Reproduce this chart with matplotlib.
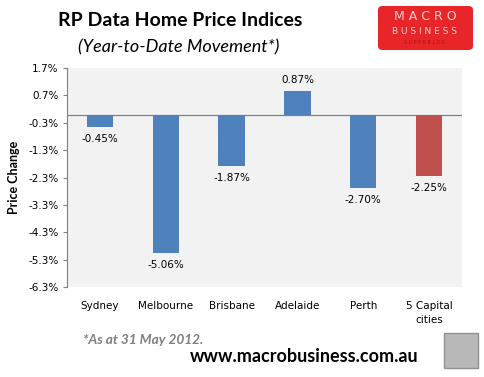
import matplotlib
matplotlib.use("Agg")
import matplotlib.pyplot as plt
from matplotlib.patches import FancyBboxPatch, Rectangle
import numpy as np

categories = ["Sydney", "Melbourne", "Brisbane", "Adelaide", "Perth", "5 Capital\ncities"]
values = [-0.45, -5.06, -1.87, 0.87, -2.70, -2.25]
colors = ["#4F81BD"] * 5 + ["#C0504D"]
yticks = [1.7, 0.7, -0.3, -1.3, -2.3, -3.3, -4.3, -5.3, -6.3]

fig = plt.figure(figsize=(4.85, 3.77), dpi=100)
ax = fig.add_axes([67/485, 1-287/377, (462-67)/485, (287-68)/377])
ax.set_facecolor("#F2F2F2")
x = np.arange(len(categories))
ax.bar(x, values, width=0.4, color=colors, zorder=3)
ax.axhline(0, color="#808080", lw=0.9, zorder=2)
ax.set_ylim(-6.3, 1.7)
ax.set_xlim(-0.5, len(categories)-0.5)
ax.set_yticks(yticks)
ax.set_yticklabels([f"{t:.1f}%" for t in yticks], fontsize=7.5, family="DejaVu Sans")
ax.set_xticks(x)
ax.set_xticklabels(categories, fontsize=7.5, family="DejaVu Sans", linespacing=1.5)
ax.tick_params(axis="x", length=0, pad=10)
ax.tick_params(axis="y", length=3, color="#808080", direction="out", pad=3)
for s in ["top", "right", "bottom"]:
    ax.spines[s].set_visible(False)
ax.spines["left"].set_color("#808080")
ax.set_ylabel("Price Change", fontsize=9, fontweight="bold", family="Lato", labelpad=6)

for xi, v in zip(x, values):
    if v < 0:
        ax.annotate(f"{v:.2f}%", (xi, v), xytext=(0, -5), textcoords="offset points",
                    ha="center", va="top", fontsize=7.5, family="DejaVu Sans")
    else:
        ax.annotate(f"{v:.2f}%", (xi, v), xytext=(0, 4), textcoords="offset points",
                    ha="center", va="bottom", fontsize=7.5, family="DejaVu Sans")

fig.text(180/485, 1-21/377, "RP Data Home Price Indices", ha="center", va="center",
         fontsize=14, fontweight="bold", family="Lato")
fig.text(179/485, 1-47/377, "(Year-to-Date Movement*)", ha="center", va="center",
         fontsize=13, style="italic", family="Lato")
fig.text(83/485, 1-340/377, "*As at 31 May 2012.", ha="left", va="center",
         fontsize=9.8, style="italic", fontweight="bold", color="#7F7F7F", family="Lato")
fig.text(304/485, 1-357/377, "www.macrobusiness.com.au", ha="center", va="center",
         fontsize=13, fontweight="bold", family="Lato")

# logo box
logo = FancyBboxPatch((378/485, 1-50/377), 95/485, 44/377,
                      boxstyle="round,pad=0,rounding_size=0.01",
                      transform=fig.transFigure, facecolor="#E8262A", edgecolor="none")
fig.patches.append(logo)
fig.text(425/485, 1-17/377, "M A C R O", ha="center", va="center", fontsize=9,
         color="#F5D0D0", family="DejaVu Sans")
fig.text(425/485, 1-31/377, "B U S I N E S S", ha="center", va="center", fontsize=6.5,
         color="#F5D0D0", family="DejaVu Sans")
fig.text(425/485, 1-42/377, "S U P E R B L O G", ha="center", va="center", fontsize=3.5,
         color="#B01010", family="DejaVu Sans")

# wolf picture placeholder
fig.patches.append(Rectangle((444/485, 1-368/377), 34/485, 35/377, transform=fig.transFigure,
                             facecolor="#B8B8B8", edgecolor="#909090", lw=1))

fig.savefig("out.png", dpi=100)
